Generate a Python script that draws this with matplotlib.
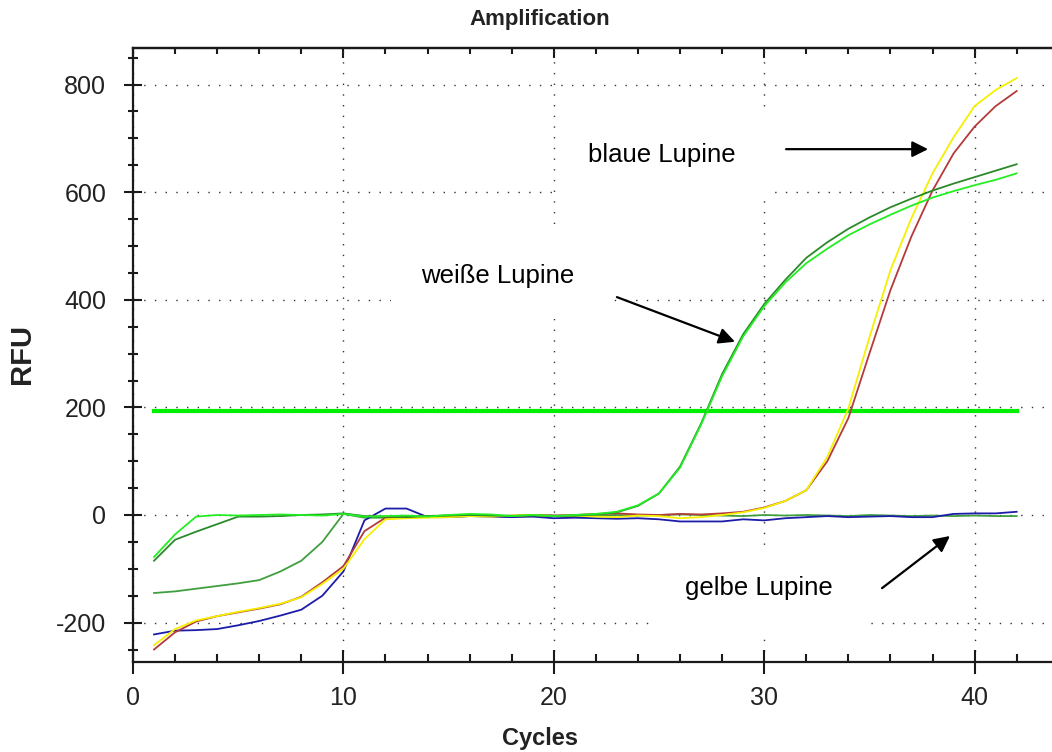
import matplotlib
matplotlib.use("Agg")
import matplotlib.pyplot as plt
from matplotlib.ticker import MultipleLocator, FixedLocator

# ---- data -------------------------------------------------------------
cycles = list(range(1, 43))

weiss_hell = [-78, -36, -3, 0, -1, 0, 1, 0, -1, 2, -3, -2, -1, -3, 0, 2, 1, -2, 0, -2, 0,
              2, 6, 18, 40, 88, 168, 258, 332, 388, 432, 468, 495, 520, 540, 558, 575,
              590, 602, 613, 623, 635]
weiss_dunkel = [-85, -46, -31, -17, -3, -3, -2, 0, 1, 3, -2, -3, -4, -2, -1, 0, -1, -2, -1,
                -2, -1, 1, 5, 17, 40, 90, 170, 262, 336, 392, 437, 478, 507, 532, 553, 572,
                588, 603, 616, 628, 640, 652]
blau_rot = [-250, -218, -198, -188, -181, -174, -166, -152, -125, -95, -30, -5, -3, -2, -3,
            -2, -1, -2, 0, -1, 0, 2, 3, 1, 0, 2, 1, 3, 6, 14, 26, 46, 100, 180, 300, 418,
            518, 603, 672, 722, 760, 788]
blau_gelb = [-242, -212, -196, -188, -180, -173, -165, -153, -128, -100, -45, -8, -6, -5,
             -4, -2, -3, -1, 0, -2, -1, -3, -4, -1, -2, -6, -4, 0, 5, 13, 26, 46, 108, 198,
             330, 455, 552, 635, 702, 760, 790, 812]
gelb_blau = [-222, -215, -214, -212, -205, -197, -187, -176, -150, -105, -10, 12, 12, -4,
             -4, -2, -3, -4, -3, -6, -5, -6, -7, -6, -8, -12, -12, -12, -8, -10, -6, -4,
             -2, -4, -3, -2, -4, -4, 2, 3, 3, 6]
gelb_gruen = [-145, -142, -137, -132, -127, -121, -105, -85, -50, 2, -5, -5, -4, -2, -1, 0,
              -2, -1, 0, -1, -2, -1, 0, -1, 0, 1, 0, -1, -2, 0, -1, 0, -1, -2, 0, -1, -2,
              -1, -2, -1, -2, -2]
threshold = 193

label_texts = ["blaue Lupine", "weiße Lupine", "gelbe Lupine"]
label_xy = [(25.15, 669), (17.35, 444), (29.75, -136)]
arrow_tails = [(31.04, 680), (23.0, 405), (35.6, -136)]
arrow_tips = [(37.79, 680), (28.61, 322), (38.83, -39)]

title_text = "Amplification"
xlabel_text = "Cycles"
ylabel_text = "RFU"

# ---- style ------------------------------------------------------------
plt.rcParams["font.family"] = ["Liberation Sans", "DejaVu Sans"]
plt.rcParams["axes.unicode_minus"] = False

W, H = 1052, 752
fig = plt.figure(figsize=(W / 100, H / 100), dpi=100)
ax_left, ax_right, ax_top, ax_bottom = 133, 1062, 48, 662
ax = fig.add_axes([ax_left / W, 1 - ax_bottom / H,
                   (ax_right - ax_left) / W, (ax_bottom - ax_top) / H])

ax.set_xlim(0, (ax_right - ax_left) / 21.04)
ax.set_ylim(-(ax_bottom - 515) / 0.538, (515 - ax_top) / 0.538)

ink = "#1a1a1a"
for side in ("left", "bottom", "top"):
    ax.spines[side].set_linewidth(1.6)
    ax.spines[side].set_color(ink)
ax.spines["right"].set_visible(False)

ax.xaxis.set_major_locator(FixedLocator([0, 10, 20, 30, 40]))
ax.xaxis.set_minor_locator(MultipleLocator(2))
ax.yaxis.set_major_locator(FixedLocator([-200, 0, 200, 400, 600, 800]))
ax.yaxis.set_minor_locator(MultipleLocator(50))

ax.tick_params(axis="y", which="major", direction="inout", length=12.5, width=1.5,
               color=ink, labelsize=18, pad=13, labelcolor="#222")
ax.tick_params(axis="y", which="minor", direction="inout", length=7, width=1.5, color=ink)
ax.tick_params(axis="x", which="major", direction="inout", length=17, width=1.5,
               color=ink, labelsize=18, pad=9, labelcolor="#222")
ax.tick_params(axis="x", which="minor", direction="in", length=5.5, width=1.5, color=ink)

top = ax.secondary_xaxis("top")
top.xaxis.set_major_locator(FixedLocator([0, 10, 20, 30, 40]))
top.xaxis.set_minor_locator(MultipleLocator(2))
top.tick_params(which="major", direction="in", length=7.5, width=1.5, color=ink,
                labeltop=False)
top.tick_params(which="minor", direction="in", length=4, width=1.5, color=ink)
top.spines["top"].set_linewidth(1.6)
top.spines["top"].set_color(ink)

ax.grid(True, which="major", color="#333333", linestyle=(0, (1, 6.7)), linewidth=1.0)

# ---- curves -------------------------------------------------------------
ax.plot([cycles[0], cycles[-1]], [threshold, threshold], color="#00ee00", lw=3.0, zorder=4)
lw = 1.3
ax.plot(cycles, gelb_gruen, color="#3f9f3f", lw=lw, zorder=5)
ax.plot(cycles, gelb_blau, color="#1c1ca8", lw=lw, zorder=5)
ax.plot(cycles, blau_rot, color="#b53a3a", lw=lw, zorder=6)
ax.plot(cycles, blau_gelb, color="#f5f000", lw=lw, zorder=6)
ax.plot(cycles, weiss_dunkel, color="#2a8a2a", lw=lw, zorder=7)
ax.plot(cycles, weiss_hell, color="#22ee22", lw=lw, zorder=7)

# ---- labels and arrows --------------------------------------------------
for txt, xy in zip(label_texts, label_xy):
    ax.text(xy[0], xy[1], txt, ha="center", va="center", fontsize=18.5,
            color="black", zorder=3,
            bbox=dict(boxstyle="square,pad=1.2", fc="white", ec="none"))

for tail, tip in zip(arrow_tails, arrow_tips):
    ax.annotate("", xy=tip, xytext=tail, zorder=8,
                arrowprops=dict(arrowstyle="-|>", color="black", lw=1.6,
                                mutation_scale=24, shrinkA=0, shrinkB=0))

fig.text(540 / W, 1 - 19 / H, title_text, ha="center", va="center",
         fontsize=16, fontweight="bold", color="#222")
fig.text(540 / W, 1 - 738 / H, xlabel_text, ha="center", va="center",
         fontsize=17, fontweight="bold", color="#222")
fig.text(22 / W, 1 - 354 / H, ylabel_text, ha="center", va="center", rotation=90,
         fontsize=21, fontweight="bold", color="#222")

fig.savefig("out.png", dpi=100, facecolor="white")
